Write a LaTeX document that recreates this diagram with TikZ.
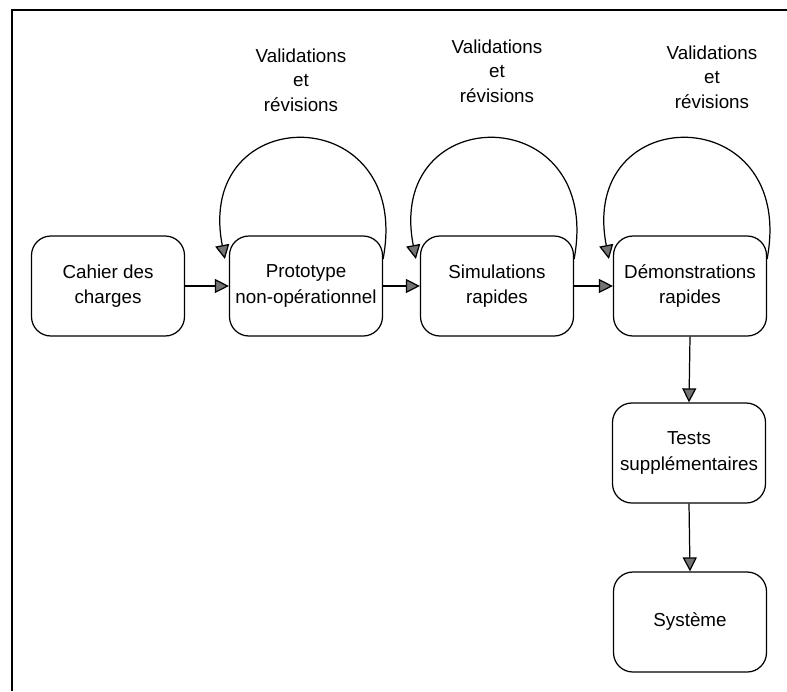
\documentclass[tikz,border=0pt]{standalone}
\usepackage{fontspec}
\setmainfont{Liberation Sans}
\usetikzlibrary{arrows.meta,calc}

\tikzset{
  etape/.style={draw,line width=0.7pt,rounded corners=11pt,minimum width=3.06cm,
    minimum height=2cm,inner sep=0pt,align=center,font=\fontsize{10.7}{14.5}\selectfont},
  fleche/.style={line width=0.7pt,-{Triangle[length=8pt,width=8pt,fill=black!55]}},
  revision/.style={align=center,font=\fontsize{10.7}{14}\selectfont}
}

\begin{document}
\begin{tikzpicture}[x=0.02cm,y=-0.02cm]
  \useasboundingbox (0,0) rectangle (787,691);
  % cadre
  \draw[line width=1.1pt] (12,691) -- (12,10) -- (787,10);

  % etapes
  \node[etape] (cdc) at (108,286) {Cahier des\\charges};
  \node[etape] (proto) at (306,286) {Prototype\\non-opérationnel};
  \node[etape] (simu) at (497,286) {Simulations\\rapides};
  \node[etape] (demo) at (690,286) {Démonstrations\\rapides};
  \node[etape] (tests) at (689,453) {Tests\\supplémentaires};
  \node[etape] (sys) at (690,622) {Système};

  \node[revision] (val1) at (301,80) {Validations\\et\\révisions};
  \node[revision] (val2) at (497,71) {Validations\\et\\révisions};
  \node[revision] (val3) at (712,77) {Validations\\et\\révisions};

  \draw[fleche] (cdc.east) -- (proto.west);
  \draw[fleche] (proto.east) -- (simu.west);
  \draw[fleche] (simu.east) -- (demo.west);
  \draw[fleche] (demo.south) -- (tests.north);
  \draw[fleche] (tests.south) -- (sys.north);

  % boucles de validation
  \draw[fleche] ($(proto.east)+(0,-27)$) .. controls +(30,-160) and +(-31,-160) .. ($(proto.west)+(-4,-27)$);
  \draw[fleche] ($(simu.east)+(0,-27)$) .. controls +(30,-160) and +(-31,-160) .. ($(simu.west)+(-4,-27)$);
  \draw[fleche] ($(demo.east)+(0,-27)$) .. controls +(30,-160) and +(-31,-160) .. ($(demo.west)+(-4,-27)$);
\end{tikzpicture}
\end{document}
